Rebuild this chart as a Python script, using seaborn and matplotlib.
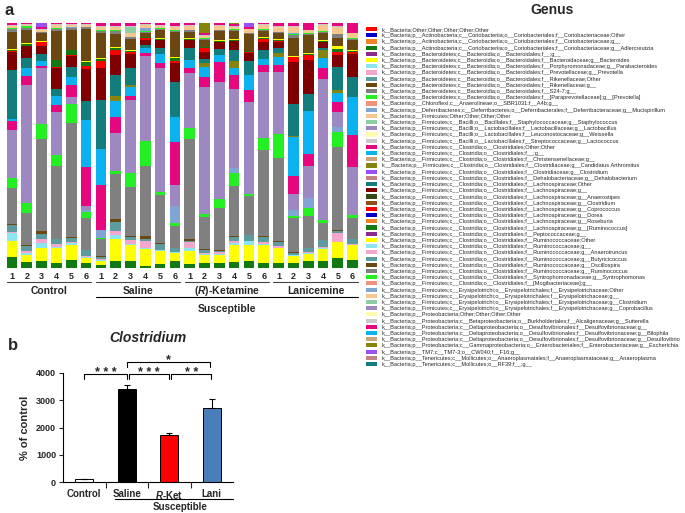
import numpy as np
import pandas as pd
import matplotlib
matplotlib.use('Agg')
import matplotlib.pyplot as plt
from matplotlib.patches import Patch
import seaborn as sns

sns.set_style('white')
plt.rcParams['font.family'] = ['Liberation Sans', 'DejaVu Sans']
plt.rcParams['mathtext.fontset'] = 'custom'
plt.rcParams['mathtext.it'] = 'Liberation Sans:italic:bold'
plt.rcParams['mathtext.rm'] = 'Liberation Sans:bold'

# ---------------- panel a data (relative abundance, % per sample) ----------------
groups_a = ['Control', 'Saline', '($R$)-Ketamine', 'Lanicemine']
sample_ids = [g + str(i) for g in ['C', 'S', 'R', 'L'] for i in range(1, 7)]
sample_labels = [str(i) for i in range(1, 7)] * 4

BAC = 'k__Bacteria;p__Bacteroidetes;c__Bacteroidia;o__Bacteroidales;'
ACT = 'k__Bacteria;p__Actinobacteria;c__Coriobacteriia;o__Coriobacteriales;f__Coriobacteriaceae;'
FIR = 'k__Bacteria;p__Firmicutes;'
CLO = FIR + 'c__Clostridia;o__Clostridiales;'
ERY = FIR + 'c__Erysipelotrichi;o__Erysipelotrichales;f__Erysipelotrichaceae;'
PRO = 'k__Bacteria;p__Proteobacteria;'
DES = PRO + 'c__Deltaproteobacteria;o__Desulfovibrionales;f__Desulfovibrionaceae;'

taxa = [
    'k__Bacteria;Other;Other;Other;Other;Other',
    ACT + 'Other', ACT + 'g__', ACT + 'g__Adlercreutzia',
    BAC + 'f__;g__', BAC + 'f__Bacteroidaceae;g__Bacteroides',
    BAC + 'f__Porphyromonadaceae;g__Parabacteroides', BAC + 'f__Prevotellaceae;g__Prevotella',
    BAC + 'f__Rikenellaceae;Other', BAC + 'f__Rikenellaceae;g__', BAC + 'f__S24-7;g__',
    BAC + 'f__[Paraprevotellaceae];g__[Prevotella]',
    'k__Bacteria;p__Chloroflexi;c__Anaerolineae;o__SBR1031;f__A4b;g__',
    'k__Bacteria;p__Deferribacteres;c__Deferribacteres;o__Deferribacterales;f__Deferribacteraceae;g__Mucispirillum',
    FIR + 'Other;Other;Other;Other',
    FIR + 'c__Bacilli;o__Bacillales;f__Staphylococcaceae;g__Staphylococcus',
    FIR + 'c__Bacilli;o__Lactobacillales;f__Lactobacillaceae;g__Lactobacillus',
    FIR + 'c__Bacilli;o__Lactobacillales;f__Leuconostocaceae;g__Weissella',
    FIR + 'c__Bacilli;o__Lactobacillales;f__Streptococcaceae;g__Lactococcus',
    CLO + 'Other;Other', CLO + 'f__;g__', CLO + 'f__Christensenellaceae;g__',
    CLO + 'f__Clostridiaceae;g__Candidatus Arthromitus', CLO + 'f__Clostridiaceae;g__Clostridium',
    CLO + 'f__Dehalobacteriaceae;g__Dehalobacterium',
    CLO + 'f__Lachnospiraceae;Other', CLO + 'f__Lachnospiraceae;g__',
    CLO + 'f__Lachnospiraceae;g__Anaerostipes', CLO + 'f__Lachnospiraceae;g__Clostridium',
    CLO + 'f__Lachnospiraceae;g__Coprococcus', CLO + 'f__Lachnospiraceae;g__Dorea',
    CLO + 'f__Lachnospiraceae;g__Roseburia', CLO + 'f__Lachnospiraceae;g__[Ruminococcus]',
    CLO + 'f__Peptococcaceae;g__',
    CLO + 'f__Ruminococcaceae;Other', CLO + 'f__Ruminococcaceae;g__',
    CLO + 'f__Ruminococcaceae;g__Anaerotruncus', CLO + 'f__Ruminococcaceae;g__Butyricicoccus',
    CLO + 'f__Ruminococcaceae;g__Oscillospira', CLO + 'f__Ruminococcaceae;g__Ruminococcus',
    CLO + 'f__Syntrophomonadaceae;g__Syntrophomonas', CLO + 'f__[Mogibacteriaceae];g__',
    ERY + 'Other', ERY + 'g__', ERY + 'g__Clostridium', ERY + 'g__Coprobacillus',
    PRO + 'Other;Other;Other;Other',
    PRO + 'c__Betaproteobacteria;o__Burkholderiales;f__Alcaligenaceae;g__Sutterella',
    DES + 'g__', DES + 'g__Bilophila', DES + 'g__Desulfovibrio',
    PRO + 'c__Gammaproteobacteria;o__Enterobacteriales;f__Enterobacteriaceae;g__Escherichia',
    'k__Bacteria;p__TM7;c__TM7-3;o__CW040;f__F16;g__',
    'k__Bacteria;p__Tenericutes;c__Mollicutes;o__Anaeroplasmatales;f__Anaeroplasmataceae;g__Anaeroplasma',
    'k__Bacteria;p__Tenericutes;c__Mollicutes;o__RF39;f__;g__',
]

base_colors = ['#FF0000', '#0000CC', '#F08228', '#137A13', '#8E2A8E', '#FFFF00', '#8CE6F0',
               '#F4A6CC', '#5C9C9E', '#6B4712', '#808080', '#22F022', '#F0937C', '#80A4D4',
               '#F6C890', '#8CCEA2', '#9E88C2', '#FFFCB0', '#C8C8C8', '#E6077F', '#0CB2F0',
               '#C9A57E', '#84840E', '#9A50F5', '#C08484', '#137C7C', '#7E0000', '#344A14',
               '#8E4E16']
colors = [base_colors[i % len(base_colors)] for i in range(len(taxa))]

#            C1   C2   C3   C4   C5   C6   S1   S2   S3   S4   S5   S6   R1   R2   R3   R4   R5   R6   L1   L2   L3   L4   L5   L6
adlercreutzia = [4.4, 2.5, 3.0, 2.0, 3.4, 2.0, 1.4, 3.0, 3.0, 1.0, 1.6, 2.7, 1.6, 2.0, 2.0, 2.7, 3.0, 2.0, 2.0, 2.0, 2.7, 3.0, 4.0, 3.3]
bacteroides = [6.5, 2.7, 5.4, 6.0, 6.0, 2.3, 1.4, 9.0, 6.5, 7.0, 5.4, 3.4, 5.4, 3.4, 3.4, 6.8, 6.5, 7.5, 6.0, 3.0, 3.0, 5.0, 6.5, 6.0]
parabacteroides = [3.4, 1.0, 2.0, 0.5, 1.0, 0.3, 0.5, 1.5, 0.5, 0.3, 0.3, 0.3, 1.0, 0.3, 0.3, 0.8, 1.6, 0.3, 0.3, 0.3, 0.5, 0.3, 0.3, 0.3]
prevotella = [0.3, 0.6, 1.6, 1.0, 0.3, 0.3, 0.3, 1.5, 1.6, 3.0, 0.3, 0.3, 2.7, 0.3, 0.8, 0.8, 0.3, 0.8, 0.5, 0.3, 0.5, 0.3, 3.7, 0.3]
rikenella_other = [3.0, 2.0, 2.0, 2.0, 1.6, 2.4, 1.0, 3.8, 1.0, 0.5, 2.4, 1.4, 0.5, 1.4, 0.5, 1.8, 2.2, 1.8, 1.6, 0.8, 1.4, 3.0, 0.5, 2.0]
rikenella_g = [0.4, 0.3, 1.0, 0.3, 0.3, 0.2, 0.2, 1.0, 0.5, 1.4, 0.5, 0.2, 0.5, 0.2, 0.4, 0.3, 0.3, 0.4, 0.4, 0.2, 0.2, 0.3, 0.4, 0.2]
s24_7 = [15.0, 13.0, 38.0, 29.0, 47.0, 13.3, 7.0, 18.6, 20.0, 29.0, 20.0, 8.6, 41.0, 13.2, 17.4, 20.8, 16.0, 35.0, 33.6, 14.3, 13.0, 6.8, 34.3, 8.6]
para_prevotella = [4.0, 4.0, 6.0, 4.6, 7.8, 2.3, 0.3, 1.0, 6.0, 10.0, 1.0, 1.4, 4.5, 1.0, 3.7, 5.7, 1.0, 4.8, 10.0, 1.0, 3.4, 1.4, 6.1, 1.0]
mucispirillum = [0, 0, 0, 0, 0, 1.0, 3.3, 0, 0, 0, 0, 6.8, 0, 0, 0, 2.0, 0, 0, 0, 2.4, 4.0, 0, 2.0, 0]
lactobacillus = [19.5, 47.6, 23.0, 17.0, 3.0, 1.5, 0, 15.6, 30.0, 35.0, 51.7, 8.7, 22.4, 51.7, 47.9, 32.7, 38.5, 27.0, 25.0, 6.5, 13.0, 59.0, 6.1, 20.0]
clostridiales_other = [4.0, 3.7, 1.0, 2.7, 5.0, 16.3, 18.5, 6.4, 1.6, 1.4, 2.0, 17.4, 2.0, 4.4, 8.3, 6.0, 4.8, 3.0, 2.7, 7.8, 5.0, 4.4, 4.0, 13.0]
clostridiales_g = [0.7, 3.0, 1.8, 3.8, 3.0, 19.7, 14.6, 6.5, 3.8, 2.0, 3.7, 10.0, 3.4, 4.0, 3.0, 2.7, 6.5, 2.3, 3.4, 16.0, 17.7, 4.0, 3.7, 16.0]
arthromitus = [0, 0, 0, 0, 0, 0, 0, 2.0, 0.7, 0, 0, 0, 0, 1.4, 0, 3.0, 0, 0, 1.5, 0.5, 0, 3.4, 1.2, 0]
lachno_other = [20.0, 4.0, 3.0, 2.7, 4.4, 7.8, 20.0, 8.8, 6.8, 1.4, 2.4, 14.3, 4.8, 1.8, 2.4, 4.5, 5.7, 3.7, 2.0, 13.6, 6.8, 1.0, 9.4, 8.0]
lachno_g = [7.5, 4.8, 3.4, 8.5, 4.4, 13.3, 13.3, 7.9, 6.0, 2.0, 3.4, 8.0, 3.0, 3.0, 2.7, 3.7, 3.4, 3.0, 2.7, 17.4, 14.0, 2.3, 4.9, 9.4]
coprococcus = [0.3, 0.3, 1.4, 0.3, 0.3, 1.4, 2.7, 2.3, 0.7, 0.7, 0.3, 0.7, 0.3, 1.4, 0.3, 0.3, 0.3, 1.4, 0.3, 2.0, 2.0, 0.3, 1.2, 0.8]
lachno_ruminococcus = [0.3, 0.8, 0.3, 2.7, 2.0, 1.4, 0.7, 0.8, 0.3, 0.3, 0.3, 1.0, 0.3, 0.3, 0.3, 0.3, 0.3, 0.3, 0.3, 0.3, 0.3, 0.3, 1.5, 0.5]
rumino_other = [0.7, 0.3, 0.3, 0.3, 0.3, 0.7, 0.7, 0.3, 0.5, 0.3, 0.3, 0.7, 0.3, 0.3, 0.3, 0.3, 0.3, 0.5, 0.3, 0.5, 0.5, 0.3, 1.0, 0.5]
oscillospira = [7.0, 5.0, 3.0, 11.5, 8.0, 13.0, 10.0, 5.4, 4.8, 1.4, 3.4, 10.0, 2.7, 2.7, 3.7, 3.4, 6.8, 2.3, 2.4, 7.5, 7.5, 3.0, 3.3, 4.0]
ruminococcus = [1.0, 0.8, 0.5, 0.8, 0.8, 0.8, 1.0, 1.0, 0.5, 0.5, 0.5, 0.5, 0.5, 0.5, 0.5, 0.5, 0.5, 0.5, 0.5, 1.0, 0.5, 0.5, 1.6, 0.5]
syntrophomonas = [0.3, 0.8, 0.3, 0.5, 0.2, 0.3, 0.3, 0.5, 0.3, 0.2, 0.2, 0.3, 0.2, 0.3, 0.2, 0.2, 0.2, 0.4, 0.2, 0.3, 0.3, 0.2, 0.2, 0.3]
erysipelo_other = [0, 0, 0, 0, 0.5, 0, 0, 0, 0, 1.4, 0, 0, 0, 0, 0, 0, 0, 0, 0, 0.5, 0, 0, 0, 0]
erysipelo_g = [1.0, 0.5, 0.8, 1.0, 0.8, 0.8, 1.0, 1.4, 1.4, 1.4, 1.0, 1.4, 1.7, 1.0, 1.4, 1.0, 1.5, 1.7, 2.0, 2.7, 1.0, 2.7, 2.9, 2.0]
erysipelo_clostridium = [0, 0, 0, 0, 0, 0, 0, 0, 2.7, 0, 0, 0, 0, 0, 0, 0, 0, 0, 0, 0, 0, 0, 0, 0]
sutterella = [0.4, 0.3, 0.4, 0.4, 0.3, 0.3, 0.4, 0.3, 0.3, 0.3, 0.4, 0.3, 0.3, 0.3, 0.3, 0.3, 0.3, 0.3, 0.3, 0.4, 0.3, 0.3, 0.3, 0.3]
desulfo_g = [0.8, 0.6, 0.5, 0.5, 0.4, 0.4, 1.4, 1.2, 1.2, 0.4, 0.8, 1.2, 0.8, 0.8, 1.0, 0.8, 0.5, 0.5, 1.2, 1.2, 2.7, 0.5, 1.2, 4.0]
escherichia = [0, 0, 0, 0, 0, 0, 0, 0, 0, 0, 0, 0, 0, 4.0, 0, 0.5, 0, 0, 0, 0, 0, 0, 0, 0]
tm7 = [0, 0, 1.8, 0, 0, 0, 0, 0, 0, 0, 0, 0, 0, 0, 0, 0, 1.8, 0, 0, 0, 0, 0, 0, 0]

abundance = {4: adlercreutzia, 6: bacteroides, 7: parabacteroides, 8: prevotella,
             9: rikenella_other, 10: rikenella_g, 11: s24_7, 12: para_prevotella,
             14: mucispirillum, 17: lactobacillus, 20: clostridiales_other,
             21: clostridiales_g, 23: arthromitus, 26: lachno_other, 27: lachno_g,
             30: coprococcus, 33: lachno_ruminococcus, 35: rumino_other, 39: oscillospira,
             40: ruminococcus, 41: syntrophomonas, 43: erysipelo_other, 44: erysipelo_g,
             45: erysipelo_clostridium, 48: sutterella, 49: desulfo_g, 52: escherichia, 53: tm7}

# ---------------- panel b data ----------------
groups_b = ['Control', 'Saline', 'R-Ket', 'Lani']
clostridium = [100, 3415, 1720, 2700]
clostridium_sem = [0, 145, 70, 345]
bar_colors_b = ['#FFFFFF', '#000000', '#FF0000', '#4A7EBB']

W, H = 685, 513
def fx(px):
    return px / W
def fy(py):
    return 1 - py / H

fig = plt.figure(figsize=(W / 100, H / 100), dpi=100)

# ---------------- panel a ----------------
ax_a = fig.add_axes([fx(4.6), fy(268), fx(360) - fx(4.6), fy(23) - fy(268)])
mat = np.zeros((len(taxa), len(sample_ids)))
for k, vals in abundance.items():
    mat[k - 1] = vals
mat = mat / mat.sum(axis=0) * 100
cum = mat.cumsum(axis=0)
for k in range(len(taxa) - 1, -1, -1):
    if mat[k].sum() == 0:
        continue
    sns.barplot(x=sample_ids, y=cum[k], order=sample_ids, color=colors[k], saturation=1,
                width=0.72, linewidth=0, errorbar=None, ax=ax_a)
ax_a.set_xlim(-0.5, 23.5)
ax_a.set_ylim(0, 100)
ax_a.set_yticks([])
ax_a.set_xlabel('')
ax_a.set_ylabel('')
ax_a.set_xticks(range(24))
ax_a.set_xticklabels(sample_labels, fontsize=6.5, fontweight='bold')
ax_a.tick_params(axis='x', length=0, pad=3)
for s in ax_a.spines.values():
    s.set_visible(False)

tr = ax_a.get_xaxis_transform()
def ya(py):
    return (268 - py) / 245
for g, name in enumerate(groups_a):
    x0, x1 = g * 6 - 0.35, g * 6 + 5.35
    ax_a.plot([x0, x1], [ya(282), ya(282)], color='#444444', lw=0.8, transform=tr, clip_on=False)
    ax_a.text((x0 + x1) / 2, ya(291), name, transform=tr, ha='center', va='center',
              fontsize=7.5, fontweight='bold')
ax_a.plot([5.65, 23.35], [ya(297), ya(297)], color='black', lw=0.8, transform=tr, clip_on=False)
ax_a.text(14.5, ya(309), 'Susceptible', transform=tr, ha='center', va='center',
          fontsize=7.5, fontweight='bold')

handles = [Patch(facecolor=c, edgecolor='none') for c in colors]
fig.legend(handles, taxa, loc='upper left', bbox_to_anchor=(fx(366), fy(27)), frameon=False,
           fontsize=4.05, handlelength=2.0, handleheight=0.75, handletextpad=0.85,
           labelspacing=0.21, borderpad=0, borderaxespad=0)

fig.text(fx(9), fy(11), 'a', fontsize=12, fontweight='bold', ha='center', va='center')
fig.text(fx(552), fy(10), 'Genus', fontsize=10, fontweight='bold', ha='center', va='center')

# ---------------- panel b ----------------
ax_b = fig.add_axes([fx(63), fy(482), fx(233) - fx(63), fy(373) - fy(482)])
sns.barplot(x=groups_b, y=clostridium, hue=groups_b, palette=bar_colors_b, legend=False,
            saturation=1, width=0.42, edgecolor='black', linewidth=0.7, errorbar=None, ax=ax_b)
ax_b.errorbar(range(4), clostridium, yerr=[[0] * 4, clostridium_sem], fmt='none',
              ecolor='black', elinewidth=0.8, capsize=2.5, capthick=0.8)
ax_b.set_xlim(-0.5, 3.5)
ax_b.set_ylim(0, 4000)
ax_b.set_yticks([0, 1000, 2000, 3000, 4000])
ax_b.set_yticklabels(['0', '1000', '2000', '3000', '4000'], fontsize=6.5, fontweight='bold')
ax_b.set_xticks(range(4))
ax_b.set_xticklabels(['Control', 'Saline', '$R$-Ket', 'Lani'], fontsize=7, fontweight='bold')
ax_b.set_xticks([0.5, 1.5, 2.5], minor=True)
ax_b.tick_params(axis='x', which='major', length=0, pad=5)
ax_b.tick_params(axis='x', which='minor', length=4, width=0.8, direction='out', bottom=True)
ax_b.tick_params(axis='y', length=3, width=0.8, direction='out', left=True, pad=2)
ax_b.set_xlabel('')
ax_b.set_ylabel('% of control', fontsize=8, fontweight='bold', labelpad=4)
for side in ['top', 'right']:
    ax_b.spines[side].set_visible(False)
for side in ['left', 'bottom']:
    ax_b.spines[side].set_color('black')
    ax_b.spines[side].set_linewidth(0.8)

def bracket(x0, x1, y, tip, label, ty):
    ax_b.plot([x0, x0, x1, x1], [y - tip, y, y, y - tip], color='black', lw=0.8, clip_on=False)
    ax_b.text((x0 + x1) / 2, ty, label, ha='center', va='center', fontsize=9,
              fontweight='bold', clip_on=False)

bracket(0.0, 1.0, 3960, 190, '* * *', 3990)
bracket(1.05, 2.0, 3960, 190, '* * *', 3990)
bracket(2.05, 2.98, 3960, 190, '* *', 3990)
bracket(1.0, 2.97, 4390, 160, '*', 4480)

ax_b.plot([0.72, 3.5], [-0.156, -0.156], color='black', lw=0.8,
          transform=ax_b.get_xaxis_transform(), clip_on=False)
ax_b.text(2.25, -0.23, 'Susceptible', transform=ax_b.get_xaxis_transform(), ha='center',
          va='center', fontsize=7, fontweight='bold')
ax_b.set_title('Clostridium', fontsize=10, fontweight='bold', fontstyle='italic', pad=22)

fig.text(fx(13), fy(345), 'b', fontsize=12, fontweight='bold', ha='center', va='center')

fig.savefig('out.png', dpi=100)
